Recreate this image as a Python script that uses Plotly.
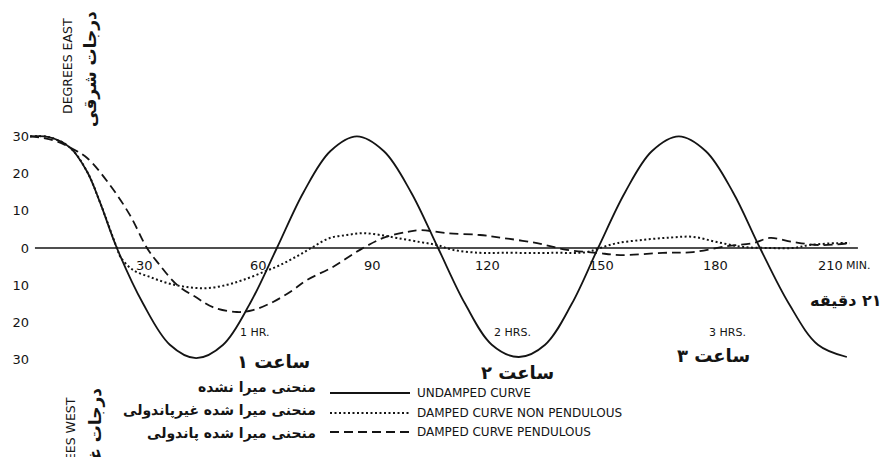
import plotly.graph_objects as go

# ---- data (time in minutes, deflection in degrees; east +, west -) ----
undamped_t = [0, 5, 10.5, 15, 18.4, 22.8, 29.7, 36.7, 43.6, 50.7, 57.7, 64.8, 71.8, 78.8, 85.8,
              92.9, 100.0, 107.1, 114.2, 121.2, 128.3, 135.2, 142.2, 149.1, 156.2, 163.2, 170.3,
              177.4, 184.5, 191.6, 199.2, 206.8, 214.4]
undamped_v = [30, 29.8, 27, 20.5, 12.2, 0, -15, -26, -29.6, -26, -15, 0, 15, 26, 30,
              26, 15, 0, -15, -26, -29.3, -26, -15, 0, 15, 26, 30,
              26, 15, 0, -15, -26, -29.3]

nonpend_t = [0, 5, 10.5, 15, 18.4, 22.8, 23.8, 27.0, 31.5, 36.0, 41.2, 46.5, 51.7, 55.9, 61.2,
             65.6, 70.1, 74.3, 78.7, 83.2, 87.4, 91.9, 96.3, 102.4, 106.8, 111.0, 118.1, 124.1,
             137.3, 146.2, 149.6, 154.1, 160.9, 168.0, 174.0, 180.3, 187.1, 194.2, 200.3, 204.7,
             211.8, 215.2]
nonpend_v = [30, 29.8, 27, 20.5, 12.2, 0, -2.5, -5.9, -7.8, -9.4, -10.5, -10.8, -9.9, -8.6, -6.5,
             -4.6, -2.2, 0.3, 2.7, 3.5, 4.0, 3.5, 2.7, 1.6, 0.8, -0.5, -1.3, -1.3,
             -1.3, -1.1, 0, 1.3, 2.2, 2.8, 3.0, 1.6, 0.3, 0, 0, 0.8,
             1.3, 1.3]

pend_t = [0, 6, 10.5, 15, 21, 26.2, 30.7, 33.6, 38.6, 43.8, 48, 54.3, 58.5, 63.8, 69,
          72.7, 79.5, 86.6, 92.7, 98.9, 102.4, 109.4, 118.1, 124.1, 133.1, 140.9, 148.8,
          154.9, 166.1, 174, 182.9, 189.8, 194.2, 200.3, 207.3, 215.2]
pend_v = [30, 29, 27, 24.2, 16.9, 8.9, 0, -4, -9.9, -13.4, -15.9, -17.2, -16.7, -14.5, -11.3,
          -8.6, -5.1, -0.5, 2.7, 4.3, 4.8, 4.0, 3.5, 2.7, 1.3, -0.5, -1.3,
          -1.9, -1.3, -1.1, 0.5, 1.3, 2.7, 1.6, 0.8, 1.3]

zero_line_t = [1.3, 217.3]
zero_line_v = [0, 0]

y_tick_vals = [30, 20, 10, 0, -10, -20, -30]
y_tick_text = ["30", "20", "10", "0", "10", "20", "30"]

x_tick_vals = [30, 60, 90, 120, 150, 180, 210]
x_tick_text = ["30", "60", "90", "120", "150", "180", "210"]

legend_fa = ["منحنی میرا نشده", "منحنی میرا شده غیرپاندولی", "منحنی میرا شده پاندولی"]
legend_en = ["UNDAMPED CURVE", "DAMPED CURVE NON PENDULOUS", "DAMPED CURVE PENDULOUS"]
legend_dash = ["solid", "2px,2.5px", "9px,5px"]

# ---- geometry (page pixels; the page body has an 8px margin) ----
OFF = 8
W, H = 889 - OFF, 457 - OFF
ML = 30 - OFF
PW = W - ML
PX_PER_MIN = 3.81
ZERO_PX = 248 - OFF
PX_PER_DEG = 3.72
x_range = [0, PW / PX_PER_MIN]
y_range = [-(H - ZERO_PX) / PX_PER_DEG, ZERO_PX / PX_PER_DEG]


def px_x(p):
    return (p - OFF - ML) / PW


def px_y(p):
    return 1 - (p - OFF) / H


INK = "#141414"
FONT_EN = "DejaVu Sans"
FONT_FA = "DejaVu Sans"
RLM = "\u200f"

fig = go.Figure()
fig.add_trace(go.Scatter(x=zero_line_t, y=zero_line_v, mode="lines",
                         line=dict(color=INK, width=1.3), hoverinfo="skip"))
fig.add_trace(go.Scatter(x=undamped_t, y=undamped_v, mode="lines", name=legend_en[0],
                         line=dict(color=INK, width=1.8, shape="spline", smoothing=1.0)))
fig.add_trace(go.Scatter(x=nonpend_t, y=nonpend_v, mode="lines", name=legend_en[1],
                         line=dict(color=INK, width=2.0, dash=legend_dash[1], shape="spline", smoothing=1.0)))
fig.add_trace(go.Scatter(x=pend_t, y=pend_v, mode="lines", name=legend_en[2],
                         line=dict(color=INK, width=1.8, dash=legend_dash[2], shape="spline", smoothing=1.0)))

ann = []
# x tick labels just below the zero line
for v, t in zip(x_tick_vals, x_tick_text):
    ann.append(dict(x=v, y=0, xref="x", yref="y", text=t, showarrow=False, yshift=-17,
                    font=dict(family=FONT_EN, size=13, color=INK)))
ann.append(dict(x=210, y=0, xref="x", yref="y", text="MIN.", showarrow=False, yshift=-17,
                xshift=14, xanchor="left", font=dict(family=FONT_EN, size=11, color=INK)))


def txt(text, x, y, size, bold=False, angle=0, family=FONT_EN, xanchor="center"):
    t = "<b>%s</b>" % text if bold else text
    ann.append(dict(x=px_x(x), y=px_y(y), xref="paper", yref="paper", text=t, showarrow=False,
                    textangle=angle, xanchor=xanchor, yanchor="middle",
                    font=dict(family=family, size=size, color=INK)))


txt("DEGREES EAST", 67, 66, 12.5, angle=-90)
txt("درجات شرقی", 90, 69, 17, bold=True, angle=-90, family=FONT_FA)
txt("DEGREES WEST", 70, 447, 12.5, angle=-90)
txt("درجات غربی", 95, 441, 17, bold=True, angle=-90, family=FONT_FA)

txt("1 HR.", 255, 332, 11)
txt("۱ ساعت", 273, 361, 18, bold=True, family=FONT_FA)
txt("2 HRS.", 512, 332, 11)
txt("۲ ساعت", 517, 372, 18, bold=True, family=FONT_FA)
txt("3 HRS.", 727, 332, 11)
txt("۳ ساعت", 713, 355, 18, bold=True, family=FONT_FA)
txt(RLM + "۲۱۰ دقیقه", 893, 300, 16, bold=True, family=FONT_FA, xanchor="right")

rows_fa_y = [387, 410, 433]
rows_en_y = [393, 413, 432]
shapes = []
for fa, en, dash, fy, ey in zip(legend_fa, legend_en, legend_dash, rows_fa_y, rows_en_y):
    txt(fa, 318, fy, 14, bold=True, family=FONT_FA, xanchor="right")
    txt(en, 415, ey, 12, xanchor="left")
    shapes.append(dict(type="line", xref="paper", yref="paper",
                       x0=px_x(330), x1=px_x(410), y0=px_y(ey), y1=px_y(ey),
                       line=dict(color=INK, width=2.0 if dash != "solid" else 1.8, dash=dash)))

fig.update_layout(
    width=W, height=H,
    margin=dict(l=ML, r=0, t=0, b=0),
    paper_bgcolor="white", plot_bgcolor="white",
    showlegend=False,
    annotations=ann, shapes=shapes,
    xaxis=dict(range=x_range, visible=False, fixedrange=True),
    yaxis=dict(range=y_range, tickvals=y_tick_vals, ticktext=y_tick_text,
               showgrid=False, zeroline=False, showline=False, ticks="",
               tickfont=dict(family=FONT_EN, size=13, color=INK), fixedrange=True),
)

fig.write_html("out.html")
